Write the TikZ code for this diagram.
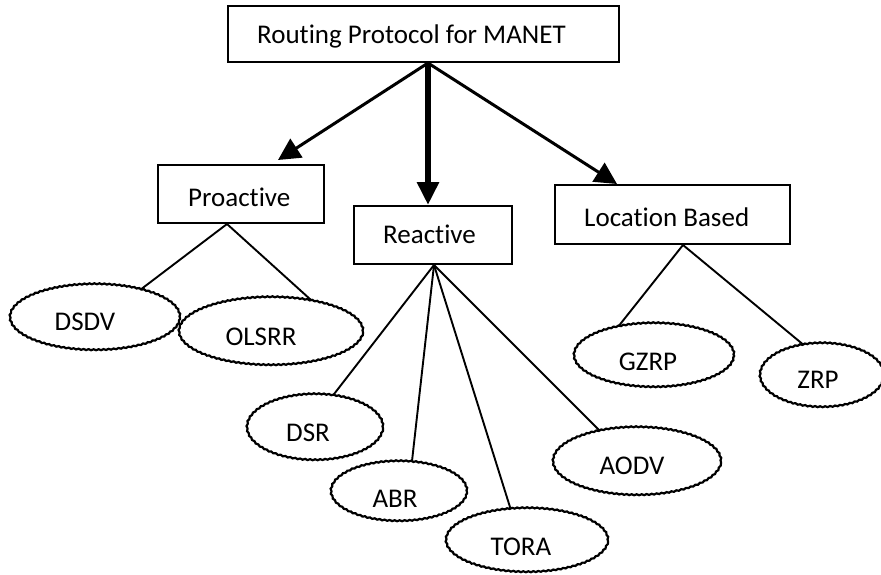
\documentclass[tikz,border=0pt]{standalone}
\usepackage{fontspec}
\setmainfont{Carlito}[Ligatures=NoCommon]
\usetikzlibrary{arrows.meta,shapes.geometric,decorations.pathmorphing,calc}
\begin{document}
\begin{tikzpicture}[x=1pt,y=-1pt,
  box/.style={draw,line width=2pt,fill=white,rectangle,inner sep=0pt},
  oval/.style={draw,line width=2.2pt,fill=white,ellipse,inner sep=0pt,decorate,decoration={snake,amplitude=0.5pt,segment length=5pt}},
  lbl/.style={font=\fontsize{27}{31}\selectfont,inner sep=0pt,anchor=base},
  lblw/.style={lbl,anchor=base west},
  link/.style={line width=1.9pt},
  arr/.style={line width=3pt,-{Triangle[length=22pt,width=22pt]}},
  arrbig/.style={line width=6pt,-{Triangle[length=23pt,width=21pt]}}
]
\clip (0,0) rectangle (881,574);
\fill[white] (0,0) rectangle (881,574);

% boxes
\node[box,minimum width=391pt,minimum height=56pt] (top) at (423.5,34) {};
\node[box,minimum width=166pt,minimum height=58pt] (pro) at (241,194) {};
\node[box,minimum width=158pt,minimum height=58pt] (rea) at (433,235) {};
\node[box,minimum width=235pt,minimum height=59pt] (loc) at (672.5,214.5) {};

% connector origins and arrow tips
\coordinate (o)  at ($(top.south)+(4.5,0)$);
\coordinate (tp) at (278,160);
\coordinate (tr) at ($(rea.north)+(-5,0)$);
\coordinate (tl) at (617,184);
\coordinate (po) at ($(pro.south)+(-14,0)$);
\coordinate (ro) at ($(rea.south)+(1,0)$);
\coordinate (lo) at ($(loc.south)+(10.5,0)$);

% ellipses
\node[oval,minimum width=170pt,minimum height=66pt] (dsdv)  at (95,318) {};
\node[oval,minimum width=184pt,minimum height=68pt] (olsrr) at (271,332) {};
\node[oval,minimum width=136pt,minimum height=66pt] (dsr)   at (315,428) {};
\node[oval,minimum width=136pt,minimum height=60pt] (abr)   at (399,492) {};
\node[oval,minimum width=162pt,minimum height=64pt] (tora)  at (527,541) {};
\node[oval,minimum width=168pt,minimum height=68pt] (aodv)  at (637,462) {};
\node[oval,minimum width=160pt,minimum height=64pt] (gzrp)  at (654,356) {};
\node[oval,minimum width=124pt,minimum height=64pt] (zrp)   at (822,376) {};

% tree links
\draw[link] (po) -- (dsdv.32);
\draw[link] (po) -- (olsrr.38);
\draw[link] (ro) -- (dsr.61);
\draw[link] (ro) -- (abr.67);
\draw[link] (ro) -- (tora.117);
\draw[link] (ro) -- (aodv.140);
\draw[link] (lo) -- (gzrp.140);
\draw[link] (lo) -- (zrp.121);

% arrows
\draw[arr] (o) -- (tp);
\draw[arrbig] (o) -- (tr);
\draw[arr] (o) -- (tl);

% texts
\node[lblw] (ttop) at (257,43.5) {Routing Protocol for MANET};
\node[lblw] (tpro) at (188,206) {Proactive};
\node[lblw] (trea) at (383,243) {Reactive};
\node[lblw] (tloc) at (584,226) {Location Based};
\node[lbl] (tdsdv)  at (85,330) {DSDV};
\node[lbl] (tolsrr) at (261,345) {OLSRR};
\node[lbl] (tdsr)   at (308,441) {DSR};
\node[lbl] (tabr)   at (395,507) {ABR};
\node[lbl] (ttora)  at (521,555) {TORA};
\node[lbl] (taodv)  at (632,474) {AODV};
\node[lbl] (tgzrp)  at (648,370) {GZRP};
\node[lbl] (tzrp)   at (818,388) {ZRP};
\end{tikzpicture}
\end{document}
